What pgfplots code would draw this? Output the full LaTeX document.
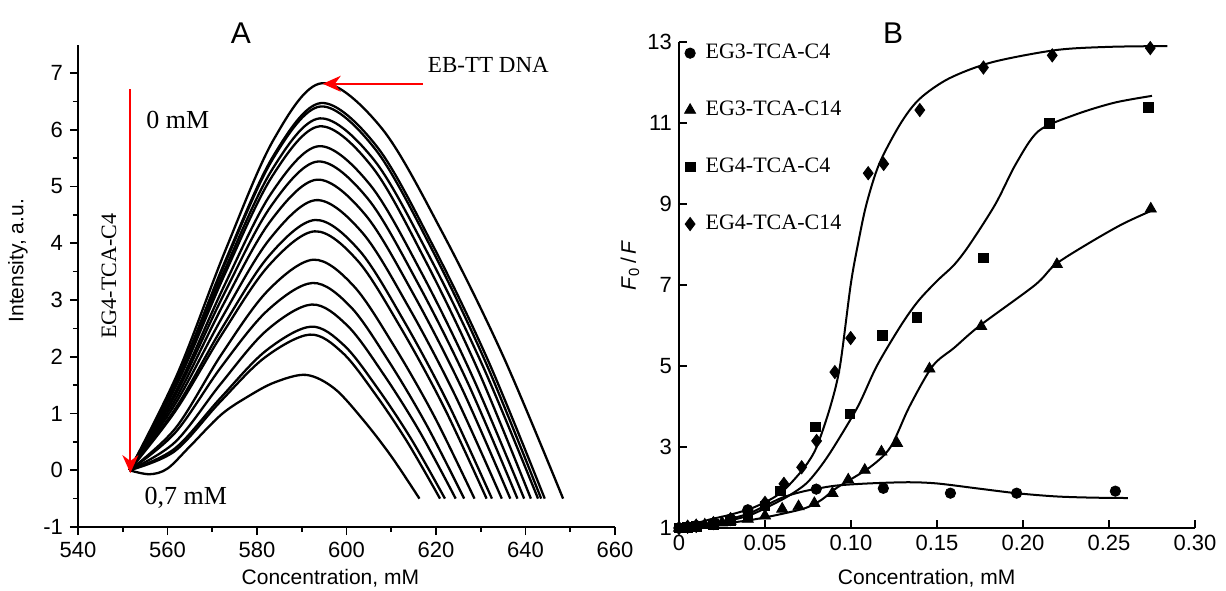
\documentclass[border=0pt]{standalone}
\usepackage{fontspec}
\setmainfont{Liberation Sans}
\newfontfamily\tnr{Liberation Serif}
\usepackage{pgfplots}
\pgfplotsset{compat=1.18}
\usetikzlibrary{arrows.meta}

\pgfplotsset{
  every axis/.append style={
    scale only axis, clip=false,
    axis line style={line width=0.8pt},
    tick style={line width=0.8pt, black},
    /pgf/number format/assume math mode=true,
    tick label style={font=\fontsize{11}{13}\selectfont},
    label style={font=\fontsize{10.5}{12}\selectfont},
  },
  spec/.style={black, line width=1.15pt, smooth, tension=0.55},
  fit/.style={black, line width=1pt, smooth, tension=0.5, forget plot},
}

\begin{document}
\begin{tikzpicture}
\useasboundingbox (0,0) rectangle (613pt,295pt);

% ---------- A ----------
\begin{axis}[
  at={(39pt,31.5pt)}, anchor=south west,
  width=268.5pt, height=241.2pt,
  xmin=540, xmax=660, ymin=-1, ymax=7.5,
  axis x line*=bottom, axis y line*=left,
  xtick={540,560,...,660}, ytick={-1,0,...,7},
  minor x tick num=1, minor y tick num=1,
  tick align=outside,
  major tick length=4pt, minor tick length=2.5pt,
  xlabel={Concentration, mM}, ylabel={Intensity, a.u.},
  xlabel style={at={(axis description cs:0.47,-0.106)}, anchor=center},
  ylabel style={at={(axis description cs:-0.112,0.552)}, anchor=center},
]
\addplot[spec] coordinates {(551.5,0) (562.25,1.705) (573.0,3.887) (583.75,5.831) (594.5,6.82) (607.98,6.015) (621.45,4.185) (634.93,2.025) (648.4,-0.5)};
\addplot[spec] coordinates {(551.5,0) (562.2,1.618) (572.9,3.688) (583.6,5.532) (594.3,6.47) (606.8,5.703) (619.3,3.961) (631.8,1.905) (644.3,-0.5)};
\addplot[spec] coordinates {(551.5,0) (562.2,1.603) (572.9,3.654) (583.5,5.481) (594.2,6.41) (606.5,5.650) (618.9,3.922) (631.2,1.884) (643.5,-0.5)};
\addplot[spec] coordinates {(551.5,0) (562.1,1.55) (572.8,3.534) (583.4,5.301) (594.0,6.20) (606.2,5.463) (618.4,3.788) (630.6,1.812) (642.8,-0.5)};
\addplot[spec] coordinates {(551.5,0) (562.1,1.515) (572.8,3.454) (583.4,5.181) (594.0,6.06) (605.8,5.338) (617.6,3.698) (629.4,1.763) (641.2,-0.5)};
\addplot[spec] coordinates {(551.5,0) (562.1,1.428) (572.7,3.255) (583.2,4.882) (593.8,5.71) (605.3,5.027) (616.8,3.474) (628.2,1.642) (639.7,-0.5)};
\addplot[spec] coordinates {(551.5,0) (562.0,1.36) (572.6,3.101) (583.1,4.651) (593.6,5.44) (604.75,4.787) (615.9,3.302) (627.05,1.549) (638.2,-0.5)};
\addplot[spec] coordinates {(551.5,0) (562.0,1.28) (572.45,2.918) (582.9,4.378) (593.4,5.12) (604.2,4.502) (615.0,3.097) (625.8,1.439) (636.6,-0.5)};
\addplot[spec] coordinates {(551.5,0) (561.9,1.19) (572.35,2.713) (582.8,4.070) (593.2,4.76) (603.6,4.181) (613.95,2.866) (624.3,1.315) (634.7,-0.5)};
\addplot[spec] coordinates {(551.5,0) (561.9,1.103) (572.25,2.514) (582.6,3.771) (593.0,4.41) (602.9,3.870) (612.75,2.642) (622.6,1.194) (632.5,-0.5)};
\addplot[spec] coordinates {(551.5,0) (561.85,1.053) (572.2,2.400) (582.55,3.600) (592.9,4.21) (602.5,3.692) (612.1,2.514) (621.7,1.125) (631.3,-0.5)};
\addplot[spec] coordinates {(551.5,0) (561.8,0.742) (572.05,2.04) (582.3,3.154) (592.6,3.71) (601.6,3.247) (610.6,2.194) (619.6,0.952) (628.6,-0.5)};
\addplot[spec] coordinates {(551.5,0) (561.7,0.66) (571.95,1.815) (582.2,2.805) (592.4,3.30) (600.9,2.882) (609.35,1.932) (617.8,0.811) (626.3,-0.5)};
\addplot[spec] coordinates {(551.5,0) (561.7,0.496) (571.85,1.518) (582.0,2.453) (592.2,2.92) (600.25,2.544) (608.3,1.689) (616.35,0.680) (624.4,-0.5)};
\addplot[spec] coordinates {(551.5,0) (561.6,0.38) (571.75,1.265) (581.9,2.10) (592.0,2.53) (599.5,2.197) (607.0,1.439) (614.5,0.545) (622.0,-0.5)};
\addplot[spec] coordinates {(551.5,0) (561.6,0.335) (571.65,1.195) (581.7,1.984) (591.8,2.39) (599.1,2.072) (606.35,1.350) (613.6,0.497) (620.9,-0.5)};
\addplot[spec] coordinates {(551.5,0) (556,-0.07) (560,0.03) (565,0.42) (572,0.98) (578,1.3) (584,1.55) (591,1.68) (597.3,1.44) (603.65,0.895) (609.95,0.252) (616.3,-0.5)};

\draw[red, line width=0.9pt, -{Stealth[length=9pt,width=8pt]}] (axis cs:551.7,6.71) -- (axis cs:551.7,-0.05);
\draw[red, line width=0.9pt, -{Stealth[length=9pt,width=8pt]}] (axis cs:617,6.81) -- (axis cs:594.7,6.81);
\node[font=\tnr\fontsize{11.5}{13}\selectfont] at (axis cs:631.7,7.15) {EB-TT DNA};
\node[font=\tnr\fontsize{13}{15}\selectfont] at (axis cs:562.3,6.18) {0 mM};
\node[font=\tnr\fontsize{13}{15}\selectfont] at (axis cs:564.1,-0.49) {0,7 mM};
\node[font=\tnr\fontsize{11}{13}\selectfont, rotate=90] at (axis cs:546.9,3.42) {EG4-TCA-C4};
\end{axis}

% ---------- B ----------
\begin{axis}[
  at={(339.5pt,31pt)}, anchor=south west,
  width=258pt, height=243pt,
  xmin=0, xmax=0.30, ymin=1, ymax=13,
  axis x line*=bottom, axis y line*=left,
  xtick={0,0.05,0.1,0.15,0.2,0.25,0.3},
  xticklabels={0,0.05,0.10,0.15,0.20,0.25,0.30},
  ytick={1,3,5,7,9,11,13},
  tick align=inside, major tick length=4pt,
  xlabel={Concentration, mM},
  ylabel={\textit{F}\textsubscript{0}\,/\,\textit{F}},
  xlabel style={at={(axis description cs:0.48,-0.103)}, anchor=center},
  ylabel style={at={(axis description cs:-0.095,0.54)}, anchor=center},
  legend style={at={(axis cs:0.003,13.05)}, anchor=north west, draw=none, fill=none,
    font=\tnr\fontsize{11}{13}\selectfont, row sep=15.7pt, column sep=3pt, inner sep=0pt},
  legend cell align=left,
]
\addplot[only marks, mark=*, mark size=2.6pt, black] coordinates {
  (0,1.0) (0.005,1.03) (0.01,1.06) (0.02,1.12) (0.03,1.22) (0.04,1.45)
  (0.0798,1.96) (0.1188,1.98) (0.1578,1.86) (0.1963,1.86) (0.2537,1.91)};
\addlegendentry{EG3-TCA-C4}
\addplot[only marks, mark=triangle*, mark size=3.2pt, black] coordinates {
  (0,1.0) (0.005,1.03) (0.01,1.06) (0.015,1.08) (0.02,1.10) (0.025,1.13) (0.03,1.17)
  (0.04,1.22) (0.05,1.30) (0.060,1.47) (0.0695,1.53) (0.0787,1.61) (0.0892,1.86)
  (0.0984,2.19) (0.108,2.43) (0.1177,2.88) (0.1268,3.09) (0.1456,4.93)
  (0.1757,5.98) (0.2197,7.51) (0.2743,8.88)};
\addlegendentry{EG3-TCA-C14}
\addplot[only marks, mark=square*, mark size=2.4pt, black] coordinates {
  (0,1.0) (0.005,1.02) (0.01,1.04) (0.02,1.09) (0.03,1.18) (0.04,1.33) (0.05,1.55)
  (0.059,1.92) (0.0794,3.50) (0.0993,3.82) (0.1183,5.75) (0.1383,6.20)
  (0.1768,7.67) (0.2154,10.99) (0.273,11.39)};
\addlegendentry{EG4-TCA-C4}
\addplot[only marks, mark=diamond*, mark size=3.3pt, black] coordinates {
  (0,1.0) (0.005,1.03) (0.01,1.05) (0.02,1.12) (0.03,1.22) (0.04,1.38) (0.05,1.62)
  (0.061,2.09) (0.0713,2.50) (0.080,3.15) (0.0906,4.85) (0.0998,5.69)
  (0.110,9.76) (0.119,9.99) (0.140,11.32) (0.177,12.37) (0.217,12.67) (0.274,12.85)};
\addlegendentry{EG4-TCA-C14}

\addplot[fit] coordinates {(0,1) (0.02,1.12) (0.04,1.35) (0.05,1.55) (0.06,1.75) (0.07,1.88) (0.08,1.97) (0.092,2.05) (0.11,2.1) (0.133,2.13) (0.15,2.1) (0.173,1.98) (0.196,1.86) (0.219,1.78) (0.24,1.75) (0.261,1.74)};
\addplot[fit] coordinates {(0,1) (0.02,1.08) (0.042,1.2) (0.06,1.35) (0.074,1.5) (0.083,1.7) (0.092,2.0) (0.111,2.5) (0.123,3.0) (0.134,4.0) (0.1475,5.0) (0.160,5.45) (0.175,6.0) (0.207,7.0) (0.2186,7.5) (0.237,8.0) (0.2576,8.5) (0.2755,8.85)};
\addplot[fit] coordinates {(0,1) (0.02,1.1) (0.04,1.3) (0.053,1.55) (0.064,1.8) (0.074,2.1) (0.082,2.5) (0.090,3.0) (0.104,4.0) (0.115,5.0) (0.129,6.0) (0.139,6.6) (0.150,7.1) (0.160,7.5) (0.169,8.0) (0.184,9.0) (0.196,10.0) (0.209,10.8) (0.230,11.2) (0.253,11.5) (0.275,11.67)};
\addplot[fit] coordinates {(0,1) (0.017,1.2) (0.03,1.33) (0.043,1.5) (0.055,1.75) (0.0626,2.0) (0.073,2.5) (0.080,3.0) (0.088,4.0) (0.0936,5.0) (0.0998,7.0) (0.104,8.0) (0.109,9.0) (0.1165,10.0) (0.129,11.0) (0.140,11.6) (0.157,12.1) (0.182,12.5) (0.219,12.8) (0.25,12.88) (0.284,12.9)};
\end{axis}

\node[font=\fontsize{15}{17}\selectfont] at (120.5pt,278.5pt) {A};
\node[font=\fontsize{15}{17}\selectfont] at (446.5pt,278.5pt) {B};
\end{tikzpicture}
\end{document}
